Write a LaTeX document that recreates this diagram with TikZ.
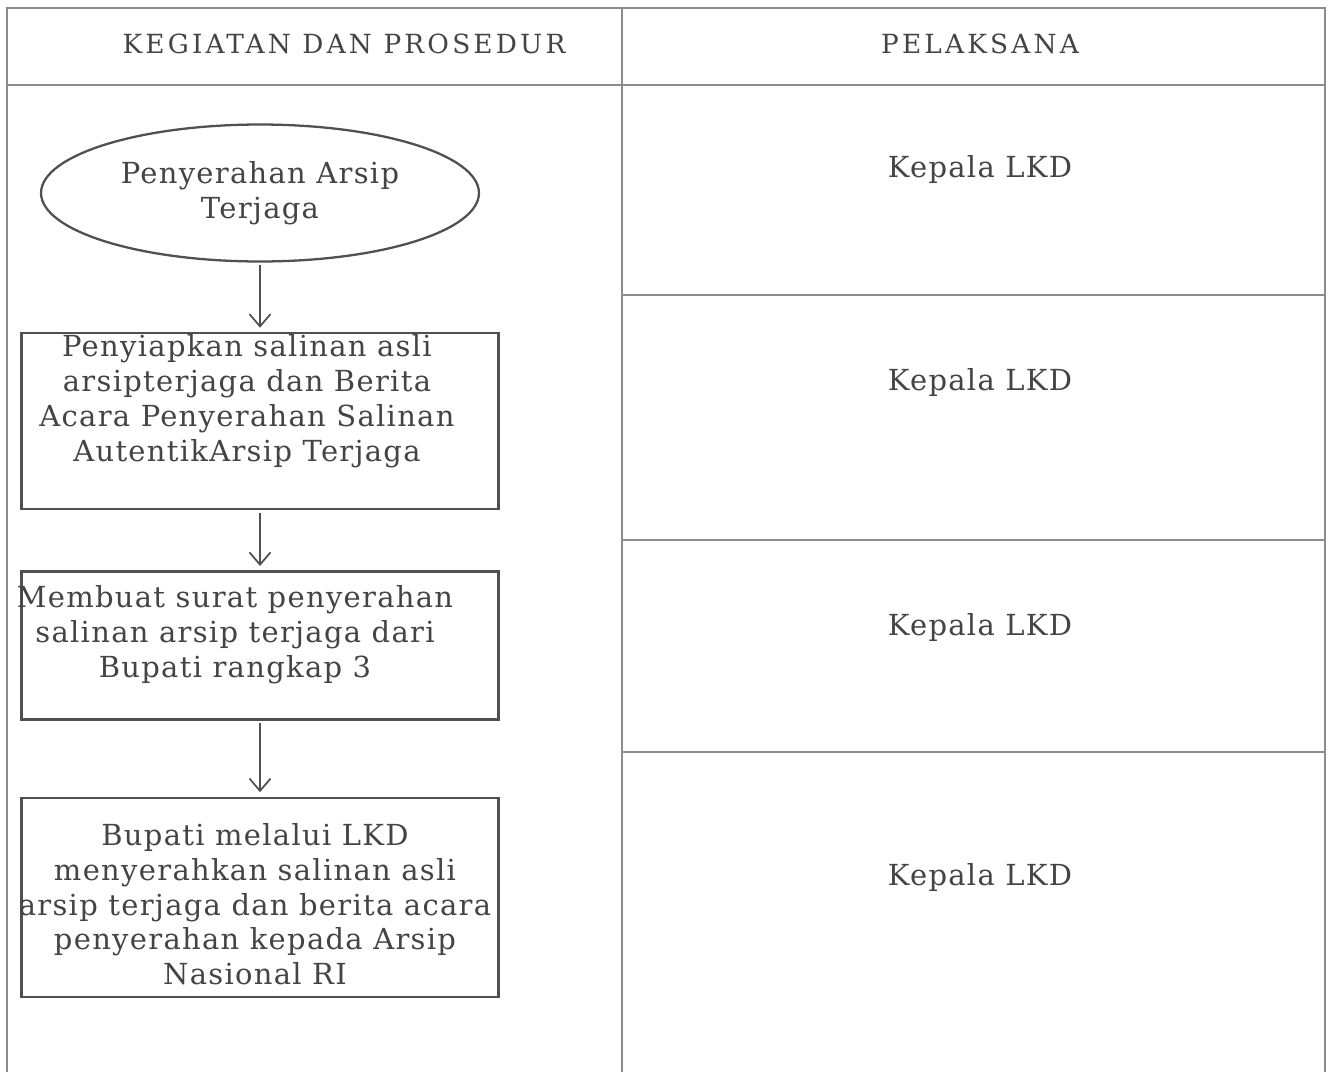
\documentclass[tikz,border=0pt]{standalone}
\usepackage{fontspec}
\setmainfont{DejaVu Serif}
\usetikzlibrary{shapes.geometric}
\usetikzlibrary{arrows.meta}
\usetikzlibrary{positioning}

\definecolor{ink}{HTML}{444444}
\definecolor{rule}{HTML}{8C8C8C}
\definecolor{frame}{HTML}{505050}

\begin{document}
\begin{tikzpicture}[x=0.02cm,y=-0.02cm,
    head/.style={text=ink,inner sep=0pt,font=\fontsize{15}{18}\selectfont\addfontfeature{LetterSpace=12}},
    lbl/.style={text=ink,align=center,inner sep=0pt,font=\fontsize{16.5}{19.9}\selectfont\addfontfeature{LetterSpace=4.5}},
    start/.style={ellipse,draw=frame,line width=1.3pt,minimum width=8.76cm,minimum height=2.74cm,lbl},
    proc/.style={rectangle,draw=frame,line width=1.3pt,minimum width=9.54cm},
    post/.style={-{Straight Barb[length=7pt,width=12pt]},draw=frame,line width=1pt,shorten <=1.5pt,shorten >=2.5pt},
    grid/.style={draw=rule,line width=0.9pt}]

  \useasboundingbox (0,0) rectangle (1330,1072);

  % table
  \draw[grid] (7,1072) -- (7,8) -- (1325,8) -- (1325,1072);
  \draw[grid] (7,85) -- (1325,85);
  \draw[grid] (622,8) -- (622,1072);
  \foreach \y in {295,540,752}
    \draw[grid] (622,\y) -- (1325,\y);

  \node [head] (hk) at (344,44) {KEGIATAN DAN PROSEDUR};
  \node [head] (hp) at (980,44) {PELAKSANA};

  % flow
  \node [start] (e0) at (260,193) {Penyerahan Arsip\\Terjaga};
  \node [proc,minimum height=3.52cm] (s1) [below=1.39cm of e0] {};
  \node [proc,minimum height=2.96cm] (s2) [below=1.20cm of s1] {};
  \node [proc,minimum height=3.98cm] (s3) [below=1.52cm of s2] {};

  \node [lbl] (s1t) at ([shift={(-13,-20)}]s1.center)
    {Penyiapkan salinan asli\\arsipterjaga dan Berita\\Acara Penyerahan Salinan\\AutentikArsip Terjaga};
  \node [lbl] (s2t) at ([shift={(-25,-11)}]s2.center)
    {Membuat surat penyerahan\\salinan arsip terjaga dari\\Bupati rangkap 3};
  \node [lbl] (s3t) at ([shift={(-5,7)}]s3.center)
    {Bupati melalui LKD\\menyerahkan salinan asli\\arsip terjaga dan berita acara\\penyerahan kepada Arsip\\Nasional RI};

  \draw [post] (e0.south) -- (s1.north);
  \draw [post] (s1.south) -- (s2.north);
  \draw [post] (s2.south) -- (s3.north);

  % pelaksana
  \foreach \y/\n in {170/1,382/2,627/3,877/4}
    \node [lbl] (p\n) at (980,\y) {Kepala LKD};
\end{tikzpicture}
\end{document}
